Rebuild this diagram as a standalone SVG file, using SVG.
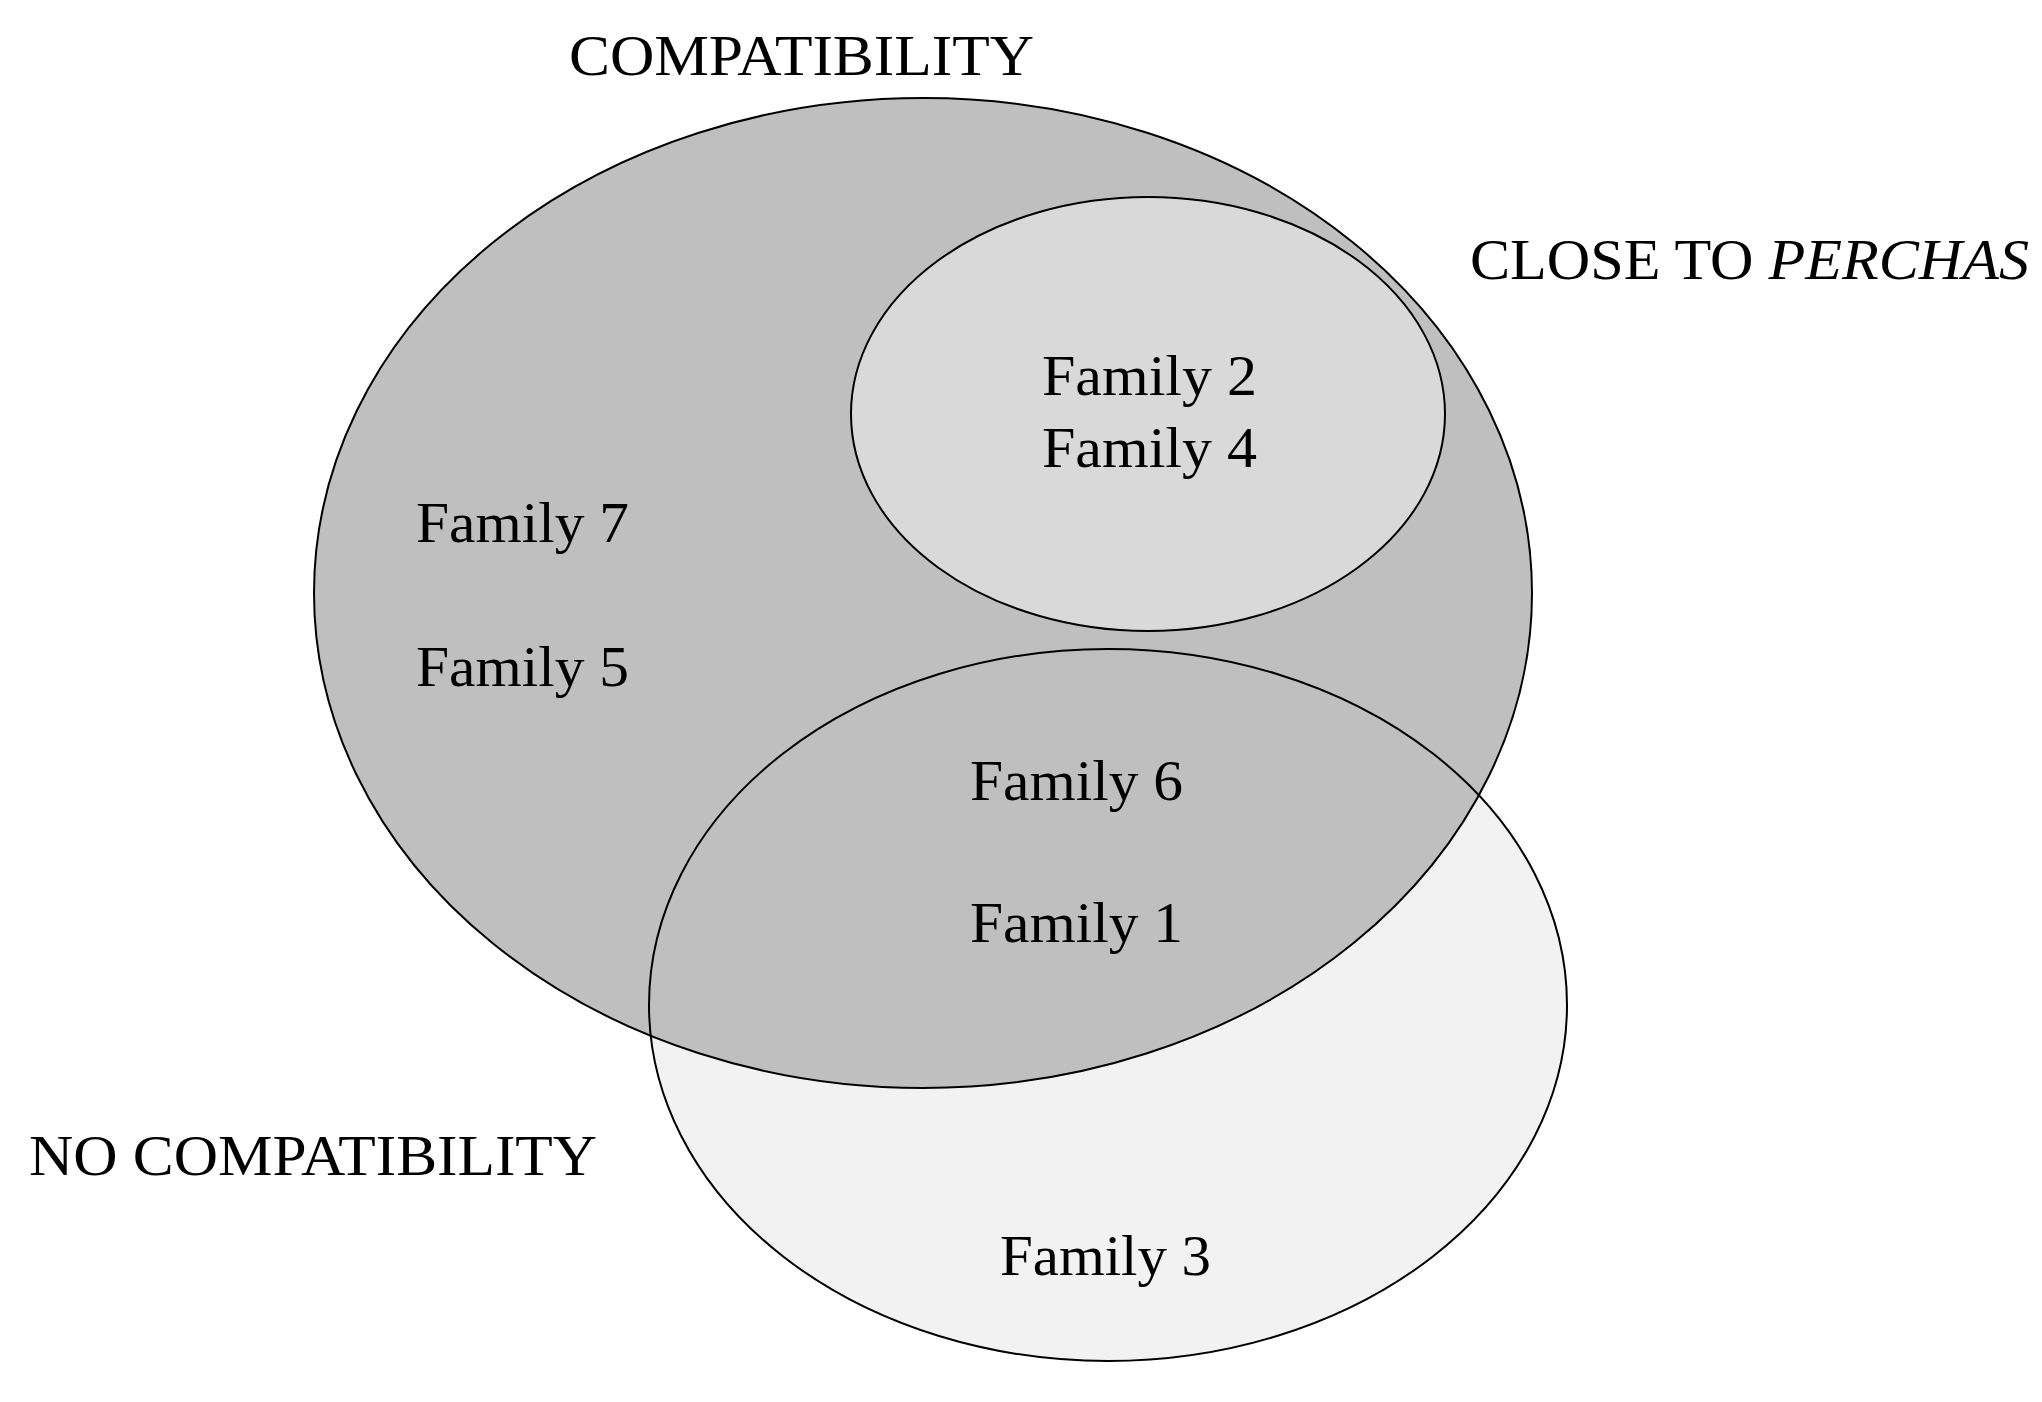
<svg xmlns="http://www.w3.org/2000/svg" width="2042" height="1402" viewBox="0 0 2042 1402">
<style>
.t{font-family:"Liberation Serif","Times New Roman",serif;font-size:56px;fill:#000}
.e{stroke:#000;stroke-width:2}
</style>
<rect width="2042" height="1402" fill="#fff"/>
<g id="no-compat-fill"><ellipse cx="1108" cy="1005" rx="459" ry="356" fill="#f2f2f2"/></g>
<g id="compatibility"><ellipse class="e" cx="923" cy="593" rx="609" ry="495" fill="#bfbfbf"/></g>
<g id="no-compatibility"><ellipse class="e" cx="1108" cy="1005" rx="459" ry="356" fill="none"/></g>
<g id="close-to-perchas"><ellipse class="e" cx="1148" cy="414" rx="297" ry="217" fill="#d9d9d9"/></g>
<g id="labels">
<text class="t" x="569" y="75" textLength="465" lengthAdjust="spacingAndGlyphs">COMPATIBILITY</text>
<text class="t" x="1470" y="279" textLength="559" lengthAdjust="spacingAndGlyphs">CLOSE TO <tspan font-style="italic">PERCHAS</tspan></text>
<text class="t" x="29" y="1175" textLength="568" lengthAdjust="spacingAndGlyphs">NO COMPATIBILITY</text>
<text class="t" x="1042" y="395" textLength="215" lengthAdjust="spacingAndGlyphs">Family 2</text>
<text class="t" x="1042" y="467" textLength="215" lengthAdjust="spacingAndGlyphs">Family 4</text>
<text class="t" x="416" y="542" textLength="213" lengthAdjust="spacingAndGlyphs">Family 7</text>
<text class="t" x="416" y="686" textLength="213" lengthAdjust="spacingAndGlyphs">Family 5</text>
<text class="t" x="970" y="800" textLength="213" lengthAdjust="spacingAndGlyphs">Family 6</text>
<text class="t" x="970" y="942" textLength="213" lengthAdjust="spacingAndGlyphs">Family 1</text>
<text class="t" x="1000" y="1275" textLength="211" lengthAdjust="spacingAndGlyphs">Family 3</text>
</g>
</svg>
